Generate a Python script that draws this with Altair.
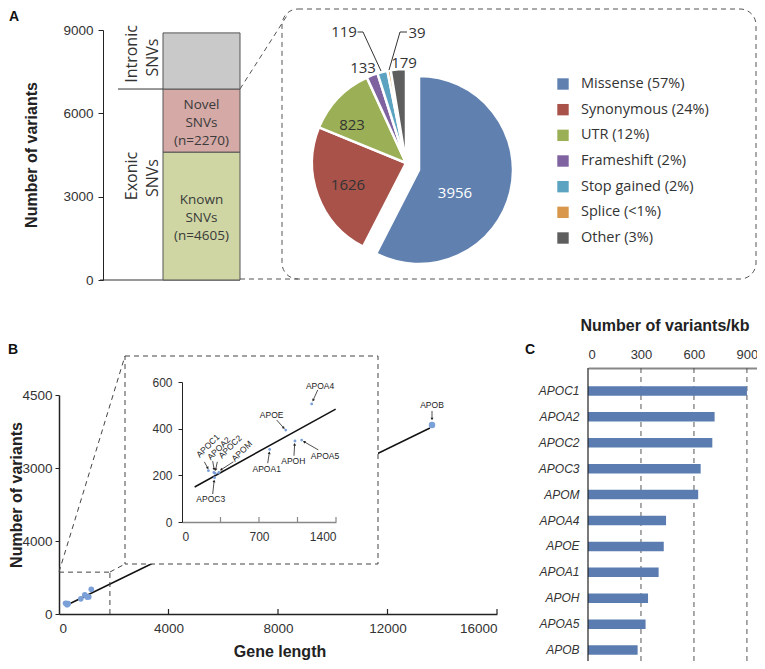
import math
import altair as alt
import pandas as pd

# ---------------- values ----------------
snv_cats = ["Known SNVs", "Novel SNVs", "Intronic SNVs"]
snv_counts = [4605, 2270, 2020]
snv_text = ["Known\nSNVs\n(n=4605)", "Novel\nSNVs\n(n=2270)", ""]
a_ticks = [0, 3000, 6000, 9000]

pie_cats = ["Missense", "Synonymous", "UTR", "Frameshift", "Stop gained", "Splice", "Other"]
pie_counts = [3956, 1626, 823, 133, 119, 39, 179]
pie_legend = ["Missense (57%)", "Synonymous (24%)", "UTR (12%)", "Frameshift (2%)",
              "Stop gained (2%)", "Splice  (<1%)", "Other (3%)"]

genes = ["APOC1", "APOA2", "APOC2", "APOC3", "APOM", "APOA4", "APOE", "APOA1", "APOH", "APOA5", "APOB"]
gene_length = [240, 290, 302, 296, 335, 1179, 943, 797, 1027, 1088, 13626]
gene_variants = [220, 212, 208, 190, 212, 506, 394, 311, 347, 351, 3884]
variants_per_kb = [900, 717, 704, 638, 624, 442, 429, 400, 340, 326, 281]

main_fit_x = [219, 13552]
main_fit_y = [164, 3822]
inset_fit_x = [115, 1397]
inset_fit_y = [150, 484]
zoom_region = [1860, 860]

main_x_ticks = [0, 4000, 8000, 12000, 16000]
main_y_ticks = [0, 1500, 3000, 4500]
main_y_labels = ["0", "4000", "3000", "4500"]
inset_x_ticks = [0, 350, 700, 1050, 1400]
inset_x_labels = ["0", "", "700", "", "1400"]
inset_y_ticks = [0, 200, 400, 600]
kb_ticks = [0, 300, 600, 900]

# inset annotation placement (inset data units)
ann_gene = ["APOA4", "APOE", "APOA1", "APOH", "APOA5", "APOC3", "APOC1", "APOA2", "APOC2", "APOM"]
ann_lx = [1255, 815, 770, 1012, 1300, 261, 234, 334, 436, 543]
ann_ly = [584, 459, 226, 263, 284, 99, 327, 316, 323, 304]
ann_x0 = [1234, 861, 779, 1018, 1239, 279, 203, 279, 321, 467]
ann_y0 = [566, 437, 252, 284, 309, 120, 258, 261, 258, 258]
ann_x1 = [1192, 925, 794, 1024, 1110, 292, 234, 292, 306, 355]
ann_y1 = [522, 403, 297, 333, 344, 176, 231, 226, 224, 224]
ann_rot = [0, 0, 0, 0, 0, 0, 315, 315, 315, 315]

# ---------------- styles ----------------
W, H = 749, 653
SANS = "Liberation Sans"
SOFT = "Open Sans"
INK = "#333333"
snv_colors = ["#cfd6a4", "#d4a9a6", "#c9c9c9"]
pie_colors = ["#6080b0", "#a8524a", "#9bb056", "#7e63a0", "#5ba3c1", "#d8974b", "#5e5e5e"]
pt_color = "#7ba0d8"
bar_color = "#5b7cb1"
DASH = [5, 4]
one = pd.DataFrame({"k": [0]})


def label_expr(values, labels):
    expr = "datum.label"
    for v, l in reversed(list(zip(values, labels))):
        expr = f"datum.value == {v} ? '{l}' : ({expr})"
    return expr


def seg(x, y, x2, y2, **kw):
    kw.setdefault("color", INK)
    return alt.Chart(one).mark_rule(**kw).encode(
        x=alt.value(x), y=alt.value(y), x2=alt.value(x2), y2=alt.value(y2))


def note(text, x, y, **kw):
    kw.setdefault("font", SANS)
    kw.setdefault("color", INK)
    kw.setdefault("align", "center")
    kw.setdefault("baseline", "middle")
    return alt.Chart(one).mark_text(text=text, **kw).encode(x=alt.value(x), y=alt.value(y))


# ---------------- panel A : stacked bar ----------------
dfA = pd.DataFrame({"cat": snv_cats, "count": snv_counts, "text": snv_text,
                    "order": [0, 1, 2], "col": ["SNVs"] * 3})
xA = alt.X("col:N", scale=alt.Scale(domain=["SNVs"], range=[155, 232], paddingInner=0, paddingOuter=0), axis=None)
yA = alt.Scale(domain=[0, 9000], range=[272, 22], nice=False, zero=False)

a_axis = alt.Chart(pd.DataFrame({"v": a_ticks})).mark_point(opacity=0).encode(
    y=alt.Y("v:Q", scale=yA,
            axis=alt.Axis(orient="left", offset=-95, values=a_ticks, format="d", tickSize=5,
                          labelPadding=5, title=None)))
a_bars = alt.Chart(dfA).mark_bar(stroke="#555555", strokeWidth=1).encode(
    x=xA,
    y=alt.Y("count:Q", stack="zero", scale=yA, axis=None),
    color=alt.Color("cat:N", scale=alt.Scale(domain=snv_cats, range=snv_colors), legend=None),
    order=alt.Order("order:Q"),
)
a_text = alt.Chart(dfA).transform_stack(
    stack="count", as_=["lo", "hi"], groupby=["col"], sort=[alt.SortField("order", order="ascending")]
).transform_calculate(mid="(datum.lo + datum.hi) / 2").transform_filter("datum.text != ''").mark_text(
    font=SOFT, fontSize=13.5, color="#3a3a3a", lineBreak="\n", lineHeight=18, baseline="middle", dy=-16
).encode(x=xA, y=alt.Y("mid:Q", scale=yA, axis=None), text="text:N")
a_div = alt.Chart(dfA).transform_filter("datum.cat != 'Intronic SNVs'").transform_aggregate(
    exonic="sum(count)").mark_rule(color=INK, strokeWidth=1).encode(
    y=alt.Y("exonic:Q", scale=yA, axis=None), x=alt.value(110), x2=alt.value(155))

a_decor = [
    seg(232, 81, 280, 6, strokeDash=DASH, color="#555"),
    seg(232, 271, 290, 271, strokeDash=DASH, color="#555"),
    alt.Chart(one).mark_rect(cornerRadius=16, fillOpacity=0, stroke="#555", strokeDash=DASH, strokeWidth=1).encode(
        x=alt.value(274), x2=alt.value(748), y=alt.value(1), y2=alt.value(271)),
    seg(92, 272, 232, 272, color=INK, strokeWidth=1.2),
]
a_notes = [
    note("A", 6, 9, fontSize=14, fontWeight="bold", color="#111"),
    note("Number of variants", 23.5, 147, angle=270, fontSize=16, fontWeight="bold", color="#222"),
    note("Intronic", 124, 46, angle=270, font=SOFT, fontSize=16),
    note("SNVs", 145, 49.5, angle=270, font=SOFT, fontSize=16),
    note("Exonic", 124, 168, angle=270, font=SOFT, fontSize=16),
    note("SNVs", 145, 170, angle=270, font=SOFT, fontSize=16),
]

# ---------------- panel A : pie ----------------
dfP = pd.DataFrame({"cat": pie_cats, "count": pie_counts, "idx": list(range(len(pie_cats))),
                    "legend": pie_legend})
pie_color = alt.Color("cat:N", scale=alt.Scale(domain=pie_cats, range=pie_colors), legend=None)


def pie_part(cx, cy, missense):
    on, off = (1, 0) if missense else (0, 1)
    return alt.Chart(dfP).mark_arc(radius=94, stroke="white", strokeWidth=2.5).encode(
        theta=alt.Theta("count:Q", stack=True),
        order=alt.Order("idx:Q"),
        color=pie_color,
        opacity=alt.condition(alt.datum.cat == "Missense", alt.value(on), alt.value(off)),
        x=alt.value(cx), y=alt.value(cy))


pie_rest = pie_part(398, 155, False)
pie_miss = pie_part(411, 162, True)

pie_notes = [
    note("3956", 447, 185, font=SOFT, fontSize=15, color="white"),
    note("1626", 340, 177, font=SOFT, fontSize=15),
    note("823", 344, 117, font=SOFT, fontSize=15),
    note("133", 355, 60, font=SOFT, fontSize=15),
    note("179", 396, 55, font=SOFT, fontSize=15),
    note("119", 336, 24, font=SOFT, fontSize=15),
    note("39", 409, 25, font=SOFT, fontSize=15),
    seg(349.5, 24, 355, 24), seg(355, 24, 373, 63),
    seg(399, 24, 392, 24), seg(392, 24, 381, 62),
]

yL = alt.Y("cat:N", scale=alt.Scale(domain=pie_cats, range=[76, 230], padding=0), axis=None)
leg_sq = alt.Chart(dfP).mark_square(size=130, opacity=1).encode(x=alt.value(555), y=yL, color=pie_color)
leg_tx = alt.Chart(dfP).mark_text(align="left", baseline="middle", font=SOFT, fontSize=14.5, color=INK).encode(
    x=alt.value(573), y=yL, text="legend:N")

# ---------------- panel B : main scatter ----------------
dfG = pd.DataFrame({"gene": genes, "length": gene_length, "variants": gene_variants, "kb": variants_per_kb})
xB = alt.Scale(domain=[0, 16000], range=[51, 489], nice=False, zero=False)
yB = alt.Scale(domain=[0, 4500], range=[606, 387], nice=False, zero=False)

b_fit = alt.Chart(pd.DataFrame({"x": main_fit_x, "y": main_fit_y})).mark_line(color="#111", strokeWidth=1.5).encode(
    x=alt.X("x:Q", scale=xB, axis=alt.Axis(orient="bottom", offset=606 - H, values=main_x_ticks, format="d",
                                           ticks=False, labelPadding=7, title=None, domainWidth=1.5)),
    y=alt.Y("y:Q", scale=yB, axis=alt.Axis(orient="left", offset=-51, values=main_y_ticks, format="d",
                                           labelExpr=label_expr(main_y_ticks, main_y_labels),
                                           tickSize=4, labelPadding=3, title=None, domainWidth=1.5)))
b_pts = alt.Chart(dfG).mark_circle(color=pt_color, opacity=1).encode(
    x=alt.X("length:Q", scale=xB, axis=None), y=alt.Y("variants:Q", scale=yB, axis=None),
    size=alt.condition(alt.datum.gene == "APOB", alt.value(42), alt.value(32)))
b_upticks = alt.Chart(pd.DataFrame({"v": main_x_ticks[1:]})).mark_rule(color="#222", strokeWidth=1.2).encode(
    x=alt.X("v:Q", scale=xB, axis=None), y=alt.value(606), y2=alt.value(601))
dfZ = pd.DataFrame({"x0": [0, zoom_region[0]], "x1": [zoom_region[0], zoom_region[0]],
                    "y0": [zoom_region[1], 0], "y1": [zoom_region[1], zoom_region[1]]})
b_zoom = alt.Chart(dfZ).mark_rule(strokeDash=DASH, color="#444").encode(
    x=alt.X("x0:Q", scale=xB, axis=None), y=alt.Y("y0:Q", scale=yB, axis=None), x2="x1:Q", y2="y1:Q")
apob = alt.Chart(dfG).transform_filter(alt.datum.gene == "APOB")
b_apob_t = apob.mark_text(font=SANS, fontSize=8.5, color="#222", dy=-20).encode(
    x=alt.X("length:Q", scale=xB, axis=None), y=alt.Y("variants:Q", scale=yB, axis=None), text="gene:N")
b_apob_a = apob.mark_rule(color="#222", strokeWidth=0.8, yOffset=-14, y2Offset=-6).encode(
    x=alt.X("length:Q", scale=xB, axis=None), y=alt.Y("variants:Q", scale=yB, axis=None), y2="variants:Q")
b_apob_h = apob.mark_point(shape="triangle-down", filled=True, size=9, color="#222", opacity=1, yOffset=-6).encode(
    x=alt.X("length:Q", scale=xB, axis=None), y=alt.Y("variants:Q", scale=yB, axis=None))

b_decor = [
    seg(51, 564, 117, 348, strokeDash=DASH, color="#444"),
    seg(102, 564, 117, 556, strokeDash=DASH, color="#444"),
    alt.Chart(one).mark_rect(fill="white", stroke="#444", strokeDash=DASH, strokeWidth=1).encode(
        x=alt.value(117), x2=alt.value(370), y=alt.value(348), y2=alt.value(556)),
]
b_notes = [
    note("B", 5, 342, fontSize=14, fontWeight="bold", color="#111"),
    note("Number of variants", 9, 487, angle=270, fontSize=16, fontWeight="bold", color="#222"),
    note("Gene length", 272, 644, fontSize=16, fontWeight="bold", color="#222"),
]

# ---------------- panel B : inset ----------------
xI = alt.Scale(domain=[0, 1400], range=[174, 328], nice=False, zero=False)
yI = alt.Scale(domain=[0, 600], range=[514, 374], nice=False, zero=False)
kx = (328 - 174) / 1400
ky = (514 - 374) / 600

i_fit = alt.Chart(pd.DataFrame({"x": inset_fit_x, "y": inset_fit_y})).mark_line(color="#111", strokeWidth=1.5).encode(
    x=alt.X("x:Q", scale=xI, axis=alt.Axis(orient="bottom", offset=514 - H, values=inset_x_ticks, format="d",
                                           labelExpr=label_expr(inset_x_ticks, inset_x_labels), ticks=False,
                                           domainColor="#888", domainWidth=1.5, labelFontSize=12,
                                           labelPadding=9, title=None, zindex=1)),
    y=alt.Y("y:Q", scale=yI, axis=alt.Axis(orient="left", offset=-174, values=inset_y_ticks, format="d",
                                           tickSize=4, labelFontSize=12, labelPadding=6, title=None, zindex=1)))
i_pts = alt.Chart(dfG).transform_filter(alt.datum.length <= 1400).mark_circle(color=pt_color, opacity=1, size=8).encode(
    x=alt.X("length:Q", scale=xI, axis=None), y=alt.Y("variants:Q", scale=yI, axis=None))
i_upticks = alt.Chart(pd.DataFrame({"v": inset_x_ticks[1:]})).mark_rule(color="#888", strokeWidth=1.2).encode(
    x=alt.X("v:Q", scale=xI, axis=None), y=alt.value(514), y2=alt.value(509))

ann_ang = []
for x0, y0, x1, y1 in zip(ann_x0, ann_y0, ann_x1, ann_y1):
    dxp = (x1 - x0) * kx
    dyp = -(y1 - y0) * ky
    ann_ang.append(math.degrees(math.atan2(dxp, -dyp)) % 360)
dfAnn = pd.DataFrame({"gene": ann_gene, "lx": ann_lx, "ly": ann_ly, "x0": ann_x0, "y0": ann_y0,
                      "x1": ann_x1, "y1": ann_y1, "rot": ann_rot, "ang": ann_ang})
i_lab = alt.Chart(dfAnn).mark_text(font=SANS, fontSize=8.5, color="#222").encode(
    x=alt.X("lx:Q", scale=xI, axis=None), y=alt.Y("ly:Q", scale=yI, axis=None), text="gene:N",
    angle=alt.Angle("rot:Q", scale=None))
i_arr = alt.Chart(dfAnn).mark_rule(color="#222", strokeWidth=0.8).encode(
    x=alt.X("x0:Q", scale=xI, axis=None), y=alt.Y("y0:Q", scale=yI, axis=None), x2="x1:Q", y2="y1:Q")
i_head = alt.Chart(dfAnn).mark_point(shape="triangle-up", filled=True, size=9, color="#222", opacity=1).encode(
    x=alt.X("x1:Q", scale=xI, axis=None), y=alt.Y("y1:Q", scale=yI, axis=None),
    angle=alt.Angle("ang:Q", scale=None))

# ---------------- panel C ----------------
xC = alt.Scale(domain=[0, 957], range=[580, 749], nice=False, zero=False)
yC = alt.Scale(domain=genes, range=[370, 655], paddingInner=0.633, paddingOuter=0.3165)
c_axis = alt.Chart(pd.DataFrame({"v": kb_ticks})).mark_point(opacity=0).encode(
    x=alt.X("v:Q", scale=xC, axis=alt.Axis(orient="top", offset=-360, values=kb_ticks, format="d", ticks=False,
                                           labelPadding=7, domainColor="#888", domainWidth=2,
                                           labelFontSize=13, title=None)),
    y=alt.value(360))
c_grid = alt.Chart(pd.DataFrame({"v": kb_ticks[1:]})).mark_rule(color="#555", strokeDash=DASH, strokeWidth=1).encode(
    x=alt.X("v:Q", scale=xC, axis=None), y=alt.value(360), y2=alt.value(H))
c_bars = alt.Chart(dfG).mark_bar(color=bar_color).encode(
    x=alt.X("kb:Q", scale=xC, axis=None),
    y=alt.Y("gene:N", scale=yC, sort=None, axis=alt.Axis(orient="left", offset=-580, ticks=False, domain=False,
                                                         labelFontStyle="italic", labelFontSize=12,
                                                         labelPadding=9, title=None)))
c_notes = [
    seg(580, 360, 580, H, color="#222", strokeWidth=1.2),
    note("C", 522, 342, fontSize=14, fontWeight="bold", color="#111"),
    note("Number of variants/kb", 657, 318, fontSize=16, fontWeight="bold", color="#222"),
]

layers = (a_decor + [a_axis, a_bars, a_text, a_div] + a_notes + [pie_rest, pie_miss] + pie_notes
          + [leg_sq, leg_tx]
          + [b_fit, b_pts, b_upticks, b_zoom, b_apob_t, b_apob_a, b_apob_h] + b_decor
          + [i_fit, i_upticks, i_pts, i_arr, i_head, i_lab] + b_notes
          + [c_axis, c_grid, c_bars] + c_notes)

chart = alt.layer(*layers).resolve_scale(
    x="independent", y="independent", color="independent", theta="independent"
).resolve_axis(x="independent", y="independent").properties(
    width=W, height=H, padding=0, autosize=alt.AutoSizeParams(type="none")
).configure_view(stroke=None).configure_axis(
    labelFont=SANS, labelFontSize=13.5, labelColor=INK, domainColor="#222", tickColor="#222", grid=False
)

chart.save("out.html", embed_options={"renderer": "svg", "actions": False})
